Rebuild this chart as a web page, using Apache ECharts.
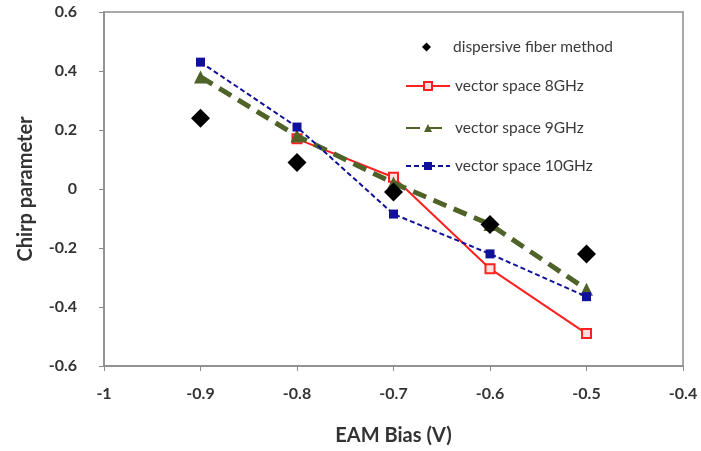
<!DOCTYPE html>
<html>
<head>
<meta charset="utf-8">
<script src="https://cdn.jsdelivr.net/npm/echarts@6/dist/echarts.min.js"></script>
<style>
  html, body { margin: 0; padding: 0; background: #fff; }
</style>
</head>
<body>
<div id="chirpChart" style="width: 701px; height: 451px;"></div>
<script>
// EAM bias values (V)
const biasX = [-0.9, -0.8, -0.7, -0.6, -0.5];
// chirp parameter
const fiberMethod = [0.24, 0.09, -0.01, -0.12, -0.22];
const vs8GHz = [null, 0.17, 0.04, -0.27, -0.49];
const vs9GHz = [0.38, 0.18, 0.02, -0.12, -0.34];
const vs10GHz = [0.43, 0.21, -0.085, -0.22, -0.365];

const names = ['dispersive fiber method', 'vector space 8GHz', 'vector space 9GHz', 'vector space 10GHz'];

function pairs(vals) {
  return biasX.map((x, i) => [x, vals[i]]).filter(p => p[1] !== null);
}

const chart = echarts.init(document.getElementById('chirpChart'));
const font = 'Lato, "Open Sans", sans-serif';
const axisGray = '#8c8c8c';

const legendBase = {
  orient: 'vertical',
  left: 405,
  padding: 0,
  itemWidth: 44,
  itemHeight: 10,
  itemGap: 0,
  textStyle: { fontFamily: font, fontSize: 15.5, color: '#3a3a3a' }
};

const option = {
  animation: false,
  legend: [
    // diamond legend kept small and centred where the line icons are
    Object.assign({}, legendBase, {
      top: 39, left: 422, itemWidth: 9, itemHeight: 9, data: [names[0]],
      textStyle: { fontFamily: font, fontSize: 15.5, color: '#3a3a3a', padding: [0, 0, 0, 17] }
    }),
    Object.assign({}, legendBase, { top: 78, data: [names[1]] }),
    Object.assign({}, legendBase, { top: 120, data: [names[2]] }),
    Object.assign({}, legendBase, { top: 158, data: [names[3]] })
  ],
  grid: { left: 104, right: 18, top: 12, bottom: 82, show: true, borderColor: axisGray, borderWidth: 1.5 },
  xAxis: {
    type: 'value',
    min: -1, max: -0.4, interval: 0.1,
    name: 'EAM Bias (V)',
    nameLocation: 'middle',
    nameGap: 60,
    nameTextStyle: { fontFamily: font, fontSize: 20, fontWeight: 'bold', color: '#333' },
    axisLine: { show: true, onZero: false, lineStyle: { color: axisGray, width: 1.5 } },
    axisTick: { show: true, length: 5, lineStyle: { color: axisGray } },
    splitLine: { show: false },
    axisLabel: { fontFamily: font, fontSize: 16, fontWeight: 'bold', color: '#333', margin: 20 }
  },
  yAxis: {
    type: 'value',
    min: -0.6, max: 0.6, interval: 0.2,
    name: 'Chirp parameter',
    nameLocation: 'middle',
    nameGap: 68,
    nameTextStyle: { fontFamily: font, fontSize: 20, fontWeight: 'bold', color: '#333' },
    axisLine: { show: true, onZero: false, lineStyle: { color: axisGray, width: 1.5 } },
    axisTick: { show: true, length: 5, lineStyle: { color: axisGray } },
    splitLine: { show: false },
    axisLabel: { fontFamily: font, fontSize: 16, fontWeight: 'bold', color: '#333', margin: 27 }
  },
  series: [
    {
      name: names[1],
      type: 'line',
      data: pairs(vs8GHz),
      symbol: 'rect',
      symbolSize: 9,
      itemStyle: { color: '#ffe0e0', borderColor: '#ff2020', borderWidth: 2 },
      lineStyle: { color: '#ff2020', width: 2 },
      z: 2
    },
    {
      name: names[2],
      type: 'line',
      data: pairs(vs9GHz),
      symbol: 'triangle',
      symbolSize: 13,
      itemStyle: { color: '#4f6228' },
      lineStyle: { color: '#4f6228', width: 5, type: [14, 8] },
      z: 3
    },
    {
      name: names[3],
      type: 'line',
      data: pairs(vs10GHz),
      symbol: 'rect',
      symbolSize: 9,
      itemStyle: { color: '#10109a' },
      lineStyle: { color: '#10109a', width: 2, type: [5, 3] },
      z: 4
    },
    {
      name: names[0],
      type: 'scatter',
      data: pairs(fiberMethod),
      symbol: 'diamond',
      symbolSize: 19,
      itemStyle: { color: '#000', opacity: 1 },
      z: 5
    }
  ]
};
chart.setOption(option);
</script>
</body>
</html>
